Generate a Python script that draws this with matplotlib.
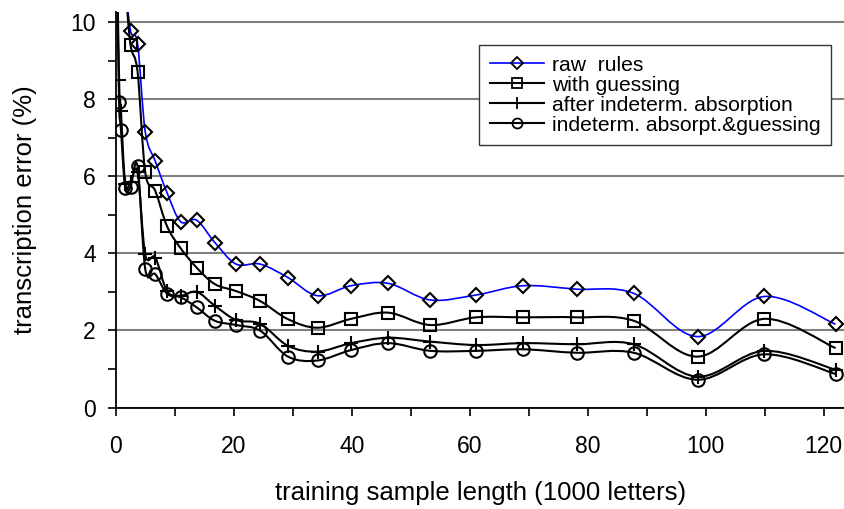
import numpy as np
import matplotlib.pyplot as plt
from matplotlib.path import Path
from matplotlib.patches import PathPatch
from matplotlib.lines import Line2D

plt.rcParams['font.family'] = ['Liberation Sans', 'DejaVu Sans']

# training sample length (1000 letters)
x_len = [0.2, 0.56, 0.88, 1.6, 2.5, 3.7, 5.0, 6.7, 8.7, 11.0, 13.7, 16.8, 20.4,
         24.5, 29.2, 34.2, 39.9, 46.2, 53.3, 61.1, 69.1, 78.1, 87.8, 98.6,
         109.9, 122.0]
# raw rules / with guessing start at x = 1.6 (earlier values are off the chart)
x_raw = x_len[3:]
raw_rules = [11.0, 9.77, 9.43, 7.15, 6.39, 5.57, 4.82, 4.86, 4.28, 3.72, 3.72,
             3.37, 2.90, 3.16, 3.22, 2.79, 2.92, 3.16, 3.07, 2.96, 1.84, 2.88,
             2.16]
with_guessing = [11.0, 9.41, 8.71, 6.10, 5.62, 4.70, 4.13, 3.63, 3.20, 3.02,
                 2.76, 2.29, 2.07, 2.30, 2.46, 2.14, 2.34, 2.34, 2.34, 2.25,
                 1.32, 2.30, 1.54]
after_absorption = [12.0, 8.49, 7.69, 5.80, 5.85, 6.10, 3.97, 3.89, 3.02, 2.90,
                    3.00, 2.64, 2.27, 2.17, 1.60, 1.45, 1.67, 1.81, 1.71, 1.62,
                    1.67, 1.64, 1.64, 0.80, 1.47, 0.98]
absorpt_guessing = [11.5, 7.93, 7.21, 5.70, 5.73, 6.26, 3.59, 3.46, 2.95, 2.86,
                    2.60, 2.25, 2.14, 1.99, 1.32, 1.22, 1.49, 1.67, 1.47, 1.47,
                    1.51, 1.42, 1.42, 0.72, 1.38, 0.87]

labels = ["raw  rules", "with guessing", "after indeterm. absorption",
          "indeterm. absorpt.&guessing"]


def smooth_path(xs, ys):
    # Excel-like smoothed line: cubic Bezier segments through the points
    p = np.column_stack([xs, ys]).astype(float)
    verts = [p[0]]
    codes = [Path.MOVETO]
    n = len(p)
    for i in range(n - 1):
        p0 = p[max(i - 1, 0)]
        p3 = p[min(i + 2, n - 1)]
        c1 = p[i] + (p[i + 1] - p0) / 6
        c2 = p[i + 1] - (p3 - p[i]) / 6
        verts += [c1, c2, p[i + 1]]
        codes += [Path.CURVE4] * 3
    return Path(verts, codes)


fig = plt.figure(figsize=(8.45, 5.09), dpi=100)
ax = fig.add_axes([0.137, 0.1994, 0.863, 0.7762])

series = [(x_raw, raw_rules, '#0000ff', 'D', 7.5, 1.2),
          (x_raw, with_guessing, 'black', 's', 9, 1.5),
          (x_len, after_absorption, 'black', '+', 10, 1.5),
          (x_len, absorpt_guessing, 'black', 'o', 9, 1.5)]

handles = []
for xs, ys, col, mk, ms, lw in series:
    ax.add_patch(PathPatch(smooth_path(xs, ys), fill=False, edgecolor=col,
                           lw=lw, zorder=3))
    ax.plot(xs, ys, ls='none', marker=mk, ms=ms, mfc='none', mec='black',
            mew=1.5, zorder=4)
    handles.append(Line2D([], [], color=col, lw=lw, marker=mk, ms=ms * 0.8,
                          mfc='none', mec='black', mew=1.3))

ax.set_xlim(0, 123.6)
ax.set_ylim(0, 10.25)
ax.set_xticks(np.arange(0, 121, 20))
ax.set_xticks(np.arange(0, 121, 10), minor=True)
ax.set_yticks(np.arange(0, 11, 2))
ax.set_yticks(np.arange(0, 11, 1), minor=True)
ax.yaxis.grid(True, color='#808080', lw=1.5)
ax.set_axisbelow(True)
ax.spines['top'].set_visible(False)
ax.spines['right'].set_visible(False)
ax.spines['left'].set_linewidth(1.3)
ax.spines['bottom'].set_linewidth(1.3)
ax.tick_params(which='both', direction='out', length=5.5, width=1.2,
               labelsize=16.5)
ax.tick_params(axis='y', which='both', pad=9)
ax.tick_params(axis='x', which='both', pad=14)

ax.set_xlabel("training sample length (1000 letters)", fontsize=18.5,
              labelpad=17)
ax.set_ylabel("transcription error (%)", fontsize=18.5, labelpad=24)

leg = ax.legend(handles, labels, loc='upper right', fontsize=15.2,
                bbox_to_anchor=(0.984, 0.9116),
                bbox_transform=fig.transFigure, frameon=True, fancybox=False,
                framealpha=1, edgecolor='#333333', handlelength=2.55,
                handletextpad=0.4, labelspacing=0.05, borderpad=0.5,
                borderaxespad=0)
leg.get_frame().set_linewidth(1.0)

fig.savefig("out.png", dpi=100)
